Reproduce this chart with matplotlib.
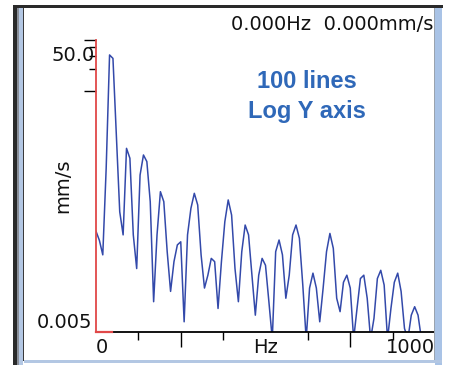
import matplotlib
matplotlib.use("Agg")
import matplotlib.pyplot as plt
from matplotlib.patches import Rectangle
from matplotlib.ticker import FixedLocator, NullFormatter

# spectrum, 100 lines, 10 Hz per line (mm/s)
freq_hz = [10 * i for i in range(97)]
vel_mms = [
    0.12, 0.09, 0.057, 0.87, 31.2, 28.0, 2.5, 0.222, 0.107, 1.64,
    1.20, 0.107, 0.037, 0.707, 1.33, 1.08, 0.305, 0.013, 0.107, 0.418,
    0.305, 0.063, 0.018, 0.046, 0.078, 0.086, 0.0069, 0.107, 0.247, 0.397,
    0.275, 0.057, 0.020, 0.030, 0.051, 0.046, 0.0105, 0.046, 0.162, 0.322,
    0.200, 0.037, 0.013, 0.063, 0.146, 0.107, 0.030, 0.0085, 0.030, 0.051,
    0.041, 0.013, 0.004, 0.063, 0.091, 0.057, 0.0145, 0.030, 0.107, 0.146,
    0.096, 0.022, 0.004, 0.020, 0.032, 0.020, 0.0069, 0.020, 0.063, 0.112,
    0.070, 0.0145, 0.0095, 0.024, 0.030, 0.020, 0.004, 0.0105, 0.027, 0.030,
    0.0145, 0.004, 0.0077, 0.027, 0.035, 0.022, 0.004, 0.0105, 0.024, 0.032,
    0.018, 0.0056, 0.004, 0.0085, 0.0111, 0.0085, 0.004,
]

x_major = [250, 750]
x_minor = [125, 375, 625, 875]
y_major = [10, 50]
y_minor = [20, 30, 40]

W, H = 450, 365
fig = plt.figure(figsize=(W / 100, H / 100), dpi=100)
fig.patch.set_facecolor("white")


def box(x, y, w, h, color):
    # pixel box, top-left origin
    fig.add_artist(Rectangle((x / W, 1 - (y + h) / H), w / W, h / H,
                             transform=fig.transFigure, color=color, lw=0))


# window frame
box(13, 5, 4, 360, "#2a2a2a")
box(17, 8, 1.5, 357, "#8a8f98")
box(18.5, 8, 4, 357, "#b3c7e3")
box(22.5, 8, 1.5, 353, "#3a3a3a")
box(13, 5, 430, 3, "#2a2a2a")
box(433.5, 8, 1.2, 353, "#9aa3ae")
box(434.7, 8, 7.5, 357, "#a9c3e6")
box(24, 359.5, 418, 3, "#b3c7e3")

ax = fig.add_axes([96 / W, (H - 332) / H, 339 / W, 292 / H])
ax.set_facecolor("none")
ax.plot(freq_hz, vel_mms, color="#3349aa", lw=1.1)
ax.set_yscale("log")
ax.set_xlim(0, 1000)
ax.set_ylim(0.005, 50)

for s in ["top", "right"]:
    ax.spines[s].set_visible(False)
ax.spines["left"].set_color("#e04848")
ax.spines["left"].set_linewidth(1.3)
ax.spines["bottom"].set_color("black")
ax.spines["bottom"].set_linewidth(1.3)
ax.plot([0, 47], [0.005, 0.005], color="#e04848", lw=1.6, clip_on=False, zorder=5)

ax.xaxis.set_major_locator(FixedLocator(x_major))
ax.xaxis.set_minor_locator(FixedLocator(x_minor))
ax.xaxis.set_major_formatter(NullFormatter())
ax.xaxis.set_minor_formatter(NullFormatter())
ax.tick_params(axis="x", which="major", length=11, width=1, color="black")
ax.tick_params(axis="x", which="minor", length=5.5, width=1, color="black")

ax.yaxis.set_major_locator(FixedLocator(y_major))
ax.yaxis.set_minor_locator(FixedLocator(y_minor))
ax.yaxis.set_major_formatter(NullFormatter())
ax.yaxis.set_minor_formatter(NullFormatter())
ax.tick_params(axis="y", which="major", length=8.5, width=1, color="black")
ax.tick_params(axis="y", which="minor", length=5, width=1, color="black")

txt = dict(fontsize=14, color="#111111", family="DejaVu Sans")
xt = ax.get_xaxis_transform()
ax.text(0, -0.052, "0", ha="left", va="center", transform=xt, **txt)
ax.text(500, -0.052, "Hz", ha="center", va="center", transform=xt, **txt)
ax.text(1000, -0.052, "1000", ha="right", va="center", transform=xt, **txt)
ax.text(-0.003, 0.948, "50.0", ha="right", va="center", transform=ax.transAxes, **txt)
ax.text(-0.012, 0.034, "0.005", ha="right", va="center", transform=ax.transAxes, **txt)

fig.text(63 / W, 1 - 186 / H, "mm/s", rotation=90, ha="center", va="center", **txt)
fig.text(433 / W, 1 - 25 / H, "0.000Hz  0.000mm/s", ha="right", va="center", **txt)

blue = dict(fontsize=17, fontweight="bold", color="#2f68b8",
            family="Liberation Sans", ha="center", va="baseline")
fig.text(307 / W, 1 - 88 / H, "100 lines", **blue)
fig.text(307 / W, 1 - 118 / H, "Log Y axis", **blue)

fig.savefig("out.png", dpi=100)
